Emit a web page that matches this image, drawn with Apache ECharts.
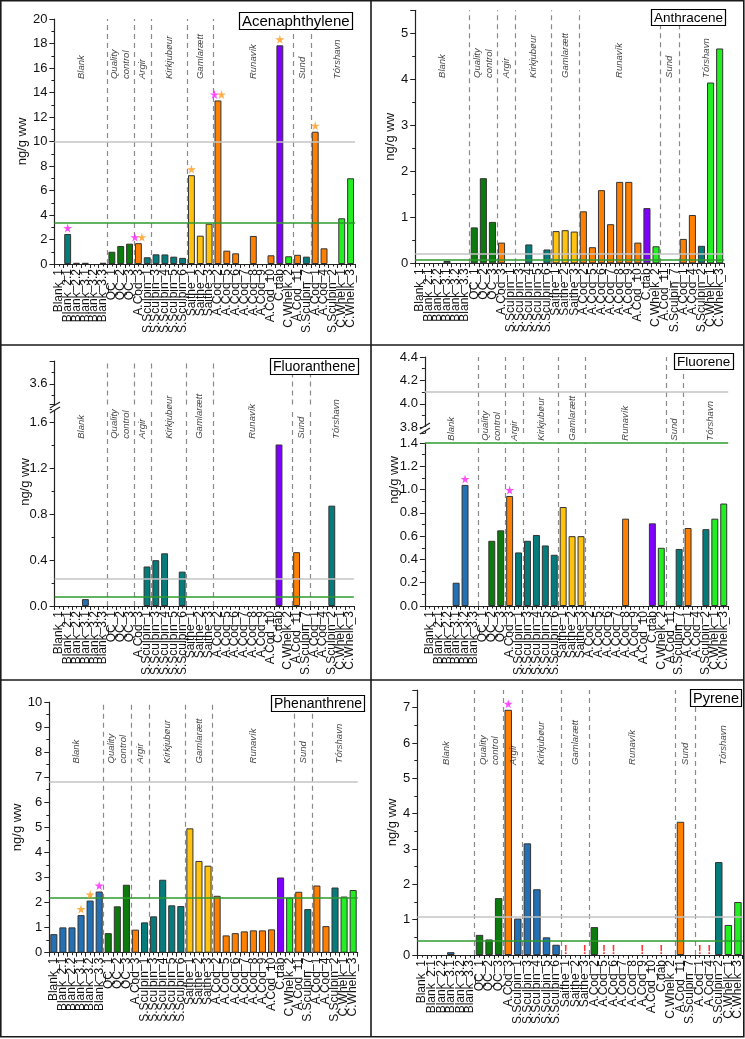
<!DOCTYPE html>
<html>
<head>
<meta charset="utf-8">
<script src="https://cdn.jsdelivr.net/npm/echarts@6/dist/echarts.min.js"></script>
<style>
  html, body { margin: 0; padding: 0; background: #fff; }
  #main { width: 745px; height: 1039px; }
</style>
</head>
<body>
<div id="main"></div>
<script>
// sample order on the x axis (same for all six panels)
const categories = ['Blank_1', 'Blank_2.1', 'Blank_2.2', 'Blank_3.1', 'Blank_3.2', 'Blank_3.3',
  'QC_1', 'QC_2', 'QC_3', 'A.Cod_3', 'S.Sculpin_1', 'S.Sculpin_3', 'S.Sculpin_4', 'S.Sculpin_5', 'S.Sculpin_6',
  'Saithe_1', 'Saithe_2', 'Saithe_3', 'A.Cod_2', 'A.Cod_5', 'A.Cod_6', 'A.Cod_7', 'A.Cod_8', 'A.Cod_9', 'A.Cod_10',
  'C.dab', 'C.Whelk_2', 'A.Cod_11', 'S.Sculpin_7', 'A.Cod_1', 'A.Cod_4', 'S.Sculpin_2', 'C.Whelk_1', 'C.Whelk_3'];

// ng/g ww
const acenaphthylene = [0, 2.45, 0.1, 0.1, 0, 0.1, 1.0, 1.47, 1.66, 1.7, 0.55, 0.79, 0.78, 0.6, 0.5,
  7.25, 2.31, 3.29, 13.35, 1.09, 0.87, 0, 2.29, 0, 0.71, 17.85, 0.63, 0.75, 0.6, 10.8, 1.28, 0, 3.73, 7.0];
const anthracene = [0, 0, 0, 0.05, 0, 0, 0.78, 1.85, 0.9, 0.45, 0, 0, 0.41, 0, 0.3,
  0.7, 0.72, 0.69, 1.13, 0.35, 1.59, 0.85, 1.77, 1.77, 0.45, 1.2, 0.37, 0, 0, 0.53, 1.05, 0.38, 3.93, 4.67];
const fluoranthene = [0, 0, 0, 0.06, 0, 0, 0, 0, 0, 0, 0.345, 0.4, 0.46, 0, 0.3,
  0, 0, 0, 0, 0, 0, 0, 0, 0, 0, 1.41, 0, 0.47, 0, 0, 0, 0.876, 0, 0];
const fluorene = [0, 0, 0, 0.2, 1.04, 0, 0, 0.56, 0.65, 0.945, 0.46, 0.56, 0.61, 0.52, 0.44,
  0.85, 0.6, 0.6, 0, 0, 0, 0, 0.75, 0, 0, 0.71, 0.5, 0, 0.49, 0.67, 0, 0.66, 0.75, 0.88];
const phenanthrene = [0.74, 1.01, 1.01, 1.5, 2.08, 2.44, 0.78, 1.85, 2.71, 0.92, 1.21, 1.45, 2.91, 1.89, 1.86,
  4.96, 3.66, 3.47, 2.27, 0.69, 0.78, 0.85, 0.89, 0.89, 0.93, 3.0, 2.2, 2.43, 1.74, 2.68, 1.06, 2.6, 2.24, 2.5];
const pyrene = [0, 0, 0, 0.08, 0, 0, 0.57, 0.44, 1.61, 6.94, 1.03, 3.16, 1.86, 0.5, 0.29,
  0, 0, 0, 0.79, 0, 0, 0, 0, 0, 0, 0, 0, 3.77, 0, 0, 0, 2.63, 0.85, 1.5];

const compounds = ['Acenaphthylene', 'Anthracene', 'Fluoranthene', 'Fluorene', 'Phenanthrene', 'Pyrene'];
const grayLines = [10, 0.2, 0.24, 4.1, 6.8, 1.08];
const greenLines = [3.33, 0.07, 0.08, 1.4, 2.2, 0.39];

// sites, and the category boundaries between them
const groupNames = ['Blank', 'Quality\ncontrol', 'Argir', 'Kirkjubøur', 'Gamlarætt', 'Runavík', 'Sund', 'Tórshavn'];
const groupBreaks = [6, 9, 11, 15, 18, 27, 29];

// markers above bars
const magentaStars = [['Blank_2.1', 'A.Cod_3', 'A.Cod_2'], [], [], ['Blank_3.2', 'A.Cod_3'], ['Blank_3.3'], ['A.Cod_3']];
const orangeStars = [['A.Cod_3', 'Saithe_1', 'A.Cod_2', 'C.dab', 'A.Cod_1'], [], [], [], ['Blank_3.1', 'Blank_3.2'], []];
const pyreneFlags = ['Saithe_1', 'Saithe_3', 'A.Cod_5', 'A.Cod_6', 'A.Cod_9', 'C.dab', 'A.Cod_1', 'A.Cod_4'];

const panelValues = [acenaphthylene, anthracene, fluoranthene, fluorene, phenanthrene, pyrene];

// ---- styling ----
const FONT = '"Liberation Sans", Arial, sans-serif';
const AXIS = '#222';
const BLUE = '#2470b4', TEAL = '#067b7b', DKGREEN = '#0c7a0c';
const speciesColors = {
  'Blank': BLUE, 'QC': DKGREEN, 'A.Cod': '#ff8000', 'S.Sculpin': TEAL,
  'Saithe': '#ffc20e', 'C.dab': '#8000ff', 'C.Whelk': '#22ee22'
};
const colorOverrides = [
  { 'Blank': TEAL },
  { 'Blank': TEAL },
  {}, {}, {},
  { 'S.Sculpin_1': BLUE, 'S.Sculpin_3': BLUE, 'S.Sculpin_4': BLUE, 'S.Sculpin_5': BLUE, 'S.Sculpin_6': BLUE, 'A.Cod_2': DKGREEN }
];
function barColor(k, cat) {
  const o = colorOverrides[k];
  const key = cat.split('_')[0];
  return o[cat] || o[key] || speciesColors[key];
}

const layout = [
  { grid: { left: 54.4, top: 19, width: 300.6, height: 245 }, y: { min: 0, max: 20, interval: 2 },
    labelY: 15.1, nameGap: 22, title: { left: 239, top: 12, size: 15 } },
  { grid: { left: 415.2, top: 10.3, width: 309, height: 253 }, y: { min: 0, max: 5.5, interval: 1 },
    labelY: 4.03, nameGap: 15, title: { left: 651, top: 9, size: 13.5 } },
  { grid: { left: 54.6, top: 409, width: 299.2, height: 197 }, y: { min: 0, max: 1.72, interval: 0.4, dec: 1 },
    upper: { top: 361, height: 43.5, min: 3.42, max: 3.8, splitNumber: 2, showMax: false },
    labelY: 1.46, nameAt: [25, 482], brk: [55, 408], title: { left: 270, top: 358, size: 14 } },
  { grid: { left: 424.9, top: 443, width: 303.3, height: 163 }, y: { min: 0, max: 1.4, interval: 0.2, dec: 1 },
    upper: { top: 357, height: 76, min: 3.75, max: 4.4, splitNumber: 3, showMax: true },
    labelY: 1.42, nameAt: [394, 480], brk: [425, 429], title: { left: 674, top: 353, size: 13.5 } },
  { grid: { left: 49.3, top: 702, width: 308.4, height: 250.7 }, y: { min: 0, max: 10, interval: 1 },
    labelY: 7.55, nameGap: 19, title: { left: 271, top: 695, size: 14 } },
  { grid: { left: 417.3, top: 690, width: 325.4, height: 265 }, y: { min: 0, max: 7.5, interval: 1 },
    labelY: 5.38, nameGap: 15, title: { left: 690, top: 689, size: 14.5 } }
];

const STAR = 'path://M50,0 L61,35 L98,35 L68,57 L79,91 L50,70 L21,91 L32,57 L2,35 L39,35 Z';

const option = {
  animation: false,
  backgroundColor: '#fff',
  textStyle: { fontFamily: FONT },
  title: [], grid: [], xAxis: [], yAxis: [], series: [], graphic: []
};

function valueY(gi, cfg, extra) {
  return Object.assign({
    type: 'value', gridIndex: gi, min: cfg.min, max: cfg.max,
    axisLine: { show: true, onZero: false, lineStyle: { color: AXIS, width: 1.2 } },
    axisTick: { show: true, length: 5, lineStyle: { color: AXIS } },
    minorTick: { show: true, splitNumber: 2, length: 3, lineStyle: { color: AXIS } },
    splitLine: { show: false },
    axisLabel: { fontSize: 13, color: '#111', margin: 7,
      formatter: v => cfg.dec ? v.toFixed(cfg.dec) : String(v) }
  }, extra);
}

function refLine(v, color) {
  return { yAxis: v, lineStyle: { color: color, type: 'solid', width: 1.6 } };
}

const dividerLines = groupBreaks.map(b => ({ xAxis: b, lineStyle: { color: '#8a8a8a', type: [5, 4], width: 1.2 } }));
const groupStarts = [0].concat(groupBreaks);
const groupEnds = groupBreaks.concat([categories.length]);

panelValues.forEach((values, k) => {
  const L = layout[k];
  const gi = option.grid.length;
  option.grid.push(L.grid);

  const xc = option.xAxis.length;
  option.xAxis.push({
    type: 'category', gridIndex: gi, data: categories, position: 'bottom',
    axisLine: { onZero: false, lineStyle: { color: AXIS, width: 1.2 } },
    axisTick: { show: false },
    axisLabel: { interval: 0, rotate: 90, fontSize: 12, color: '#111', margin: 5 },
    splitLine: { show: false }
  });
  const xv = option.xAxis.length;
  option.xAxis.push({
    type: 'value', gridIndex: gi, min: 0, max: categories.length, interval: 1, position: 'bottom',
    axisLine: { show: false, onZero: false }, axisLabel: { show: false }, splitLine: { show: false },
    axisTick: { show: true, length: 4, lineStyle: { color: AXIS } },
    minorTick: { show: true, splitNumber: 2, length: 2.5, lineStyle: { color: AXIS } }
  });

  const yi = option.yAxis.length;
  const yExtra = { interval: L.y.interval };
  if (L.y.max % L.y.interval > 1e-9 && Math.abs(L.y.max % L.y.interval - L.y.interval) > 1e-9) {
    yExtra.axisLabel = { fontSize: 13, color: '#111', margin: 7, showMaxLabel: false,
      formatter: v => L.y.dec ? v.toFixed(L.y.dec) : String(v) };
  }
  if (!L.upper) {
    Object.assign(yExtra, { name: 'ng/g ww', nameLocation: 'middle', nameGap: L.nameGap,
      nameTextStyle: { fontSize: 13, color: '#111' } });
  }
  option.yAxis.push(valueY(gi, L.y, yExtra));

  // bars
  option.series.push({
    type: 'bar', xAxisIndex: xc, yAxisIndex: yi, barCategoryGap: '22%', z: 2,
    itemStyle: { borderColor: '#333', borderWidth: 1 },
    data: values.map((v, i) => ({
      value: v,
      itemStyle: { color: barColor(k, categories[i]), borderWidth: v > 0 ? 1 : 0 }
    }))
  });

  // site labels, dividers and reference lines
  const lowerRefs = [];
  const upperRefs = [];
  (grayLines[k] <= L.y.max ? lowerRefs : upperRefs).push(refLine(grayLines[k], '#c4c4c4'));
  (greenLines[k] <= L.y.max ? lowerRefs : upperRefs).push(refLine(greenLines[k], '#2e9a2e'));
  option.series.push({
    type: 'scatter', xAxisIndex: xv, yAxisIndex: yi, symbolSize: 1, clip: false, z: 5, silent: true,
    itemStyle: { color: 'rgba(0,0,0,0)' },
    data: groupNames.map((n, j) => ({ name: n, value: [(groupStarts[j] + groupEnds[j]) / 2 + (j === 7 ? 0.5 : 0), L.labelY] })),
    label: { show: true, position: 'inside', formatter: '{b}', rotate: 90, align: 'left', verticalAlign: 'middle',
      fontStyle: 'italic', fontSize: 9.5, lineHeight: 12, color: '#111' },
    markLine: { silent: true, symbol: ['none', 'none'], label: { show: false }, animation: false,
      data: dividerLines.concat(lowerRefs) }
  });

  // stars above bars
  const mag = magentaStars[k], ora = orangeStars[k];
  const starItems = (list, other, dx) => list.map(c => ({
    value: [c, values[categories.indexOf(c)]],
    symbolOffset: [other.indexOf(c) >= 0 ? dx : 0, -6]
  }));
  if (mag.length) option.series.push({ type: 'scatter', xAxisIndex: xc, yAxisIndex: yi, symbol: STAR, symbolSize: 9,
    clip: false, z: 6, itemStyle: { color: '#ff22ff' }, data: starItems(mag, ora, -3.5) });
  if (ora.length) option.series.push({ type: 'scatter', xAxisIndex: xc, yAxisIndex: yi, symbol: STAR, symbolSize: 9,
    clip: false, z: 6, itemStyle: { color: '#ff9a1a' }, data: starItems(ora, mag, 3.5) });

  if (k === 5) {
    option.series.push({
      type: 'scatter', xAxisIndex: xc, yAxisIndex: yi, symbolSize: 1, clip: false, z: 6,
      itemStyle: { color: 'rgba(0,0,0,0)' },
      data: pyreneFlags.map(c => [c, values[categories.indexOf(c)]]),
      label: { show: true, formatter: '!', position: 'top', distance: -2, color: '#ff0000',
        fontSize: 12, fontWeight: 'bold' }
    });
  }

  // broken axis: upper segment
  if (L.upper) {
    const U = L.upper;
    const gu = option.grid.length;
    option.grid.push({ left: L.grid.left, width: L.grid.width, top: U.top, height: U.height });
    const xu = option.xAxis.length;
    option.xAxis.push({ type: 'value', gridIndex: gu, min: 0, max: categories.length, show: false });
    const yu = option.yAxis.length;
    option.yAxis.push(valueY(gu, { min: U.min, max: U.max, dec: 1 }, {
      splitNumber: U.splitNumber,
      axisLabel: { fontSize: 13, color: '#111', margin: 7, showMinLabel: false, showMaxLabel: U.showMax,
        formatter: v => v.toFixed(1) }
    }));
    option.series.push({
      type: 'scatter', xAxisIndex: xu, yAxisIndex: yu, symbolSize: 0, silent: true, z: 5,
      data: [[0, U.min]],
      markLine: { silent: true, symbol: ['none', 'none'], label: { show: false }, animation: false,
        data: dividerLines.concat(upperRefs) }
    });
    option.graphic.push({
      type: 'text', x: L.nameAt[0], y: L.nameAt[1], rotation: Math.PI / 2,
      style: { text: 'ng/g ww', fontSize: 13, fontFamily: FONT, fill: '#111', align: 'center', verticalAlign: 'middle' }
    });
    const [bx, by] = L.brk;
    option.graphic.push({ type: 'rect', shape: { x: bx - 3, y: by - 2, width: 6, height: 4 }, style: { fill: '#fff' }, z: 50 });
    option.graphic.push({ type: 'line', shape: { x1: bx - 5, y1: by, x2: bx + 5, y2: by - 6 },
      style: { stroke: AXIS, lineWidth: 1.2 }, z: 51 });
    option.graphic.push({ type: 'line', shape: { x1: bx - 5, y1: by + 5, x2: bx + 5, y2: by - 1 },
      style: { stroke: AXIS, lineWidth: 1.2 }, z: 51 });
  }

  option.title.push({
    text: compounds[k], left: L.title.left, top: L.title.top, padding: [2, 3, 1, 3],
    backgroundColor: '#fff', borderColor: '#000', borderWidth: 1.2,
    textStyle: { fontSize: L.title.size, fontWeight: 'normal', color: '#000', fontFamily: FONT }
  });
});

// panel frames
const frame = { stroke: '#1a1a1a', lineWidth: 1.6 };
option.graphic.push({ type: 'rect', shape: { x: 0.8, y: 0.8, width: 743, height: 1036 }, style: Object.assign({ fill: null }, frame), z: 60 });
option.graphic.push({ type: 'line', shape: { x1: 371, y1: 0, x2: 371, y2: 1037 }, style: frame, z: 60 });
option.graphic.push({ type: 'line', shape: { x1: 0, y1: 345, x2: 744, y2: 345 }, style: frame, z: 60 });
option.graphic.push({ type: 'line', shape: { x1: 0, y1: 680, x2: 744, y2: 680 }, style: frame, z: 60 });

const chart = echarts.init(document.getElementById('main'));
chart.setOption(option);
</script>
</body>
</html>
